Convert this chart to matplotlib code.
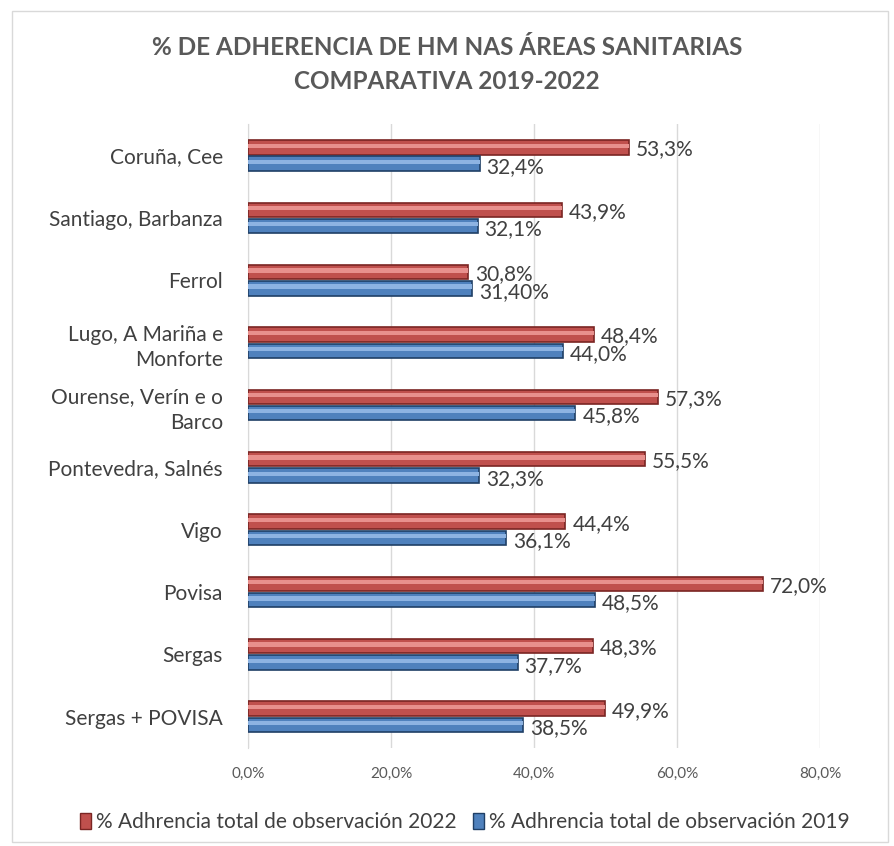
import matplotlib.pyplot as plt
import numpy as np
from matplotlib.patches import Rectangle

plt.rcParams['font.family'] = ['Lato', 'DejaVu Sans']

areas = ["Coruña, Cee", "Santiago, Barbanza", "Ferrol", "Lugo, A Mariña e\nMonforte",
         "Ourense, Verín e o\nBarco", "Pontevedra, Salnés", "Vigo", "Povisa", "Sergas",
         "Sergas + POVISA"]
vals_2022 = [53.3, 43.9, 30.8, 48.4, 57.3, 55.5, 44.4, 72.0, 48.3, 49.9]
vals_2019 = [32.4, 32.1, 31.4, 44.0, 45.8, 32.3, 36.1, 48.5, 37.7, 38.5]
labels_2022 = ["53,3%", "43,9%", "30,8%", "48,4%", "57,3%", "55,5%", "44,4%", "72,0%", "48,3%", "49,9%"]
labels_2019 = ["32,4%", "32,1%", "31,40%", "44,0%", "45,8%", "32,3%", "36,1%", "48,5%", "37,7%", "38,5%"]
ticks = [0, 20, 40, 60, 80]
tick_labels = ["0,0%", "20,0%", "40,0%", "60,0%", "80,0%"]

red, red_dark, red_light = "#C0504D", "#7A2523", "#E8908D"
blue, blue_dark, blue_light = "#4F81BD", "#1F3F66", "#8DB3E2"

fig = plt.figure(figsize=(8.94, 8.46), dpi=100)
fig.patches.append(Rectangle((0.013, 0.005), 0.98, 0.982, transform=fig.transFigure,
                             fill=False, edgecolor="#D9D9D9", linewidth=1))
ax = fig.add_axes([0.2774, 0.116, 0.6398, 0.737])

y = np.arange(len(areas))
h = 0.23
y_red = y - h / 2 - 0.015
y_blue = y + h / 2 + 0.015

ax.barh(y_red, vals_2022, height=h, color=red, edgecolor=red_dark, linewidth=1.2, zorder=3)
ax.barh(y_red - h * 0.12, vals_2022, height=h * 0.3, color=red_light, linewidth=0, zorder=4)
ax.barh(y_blue, vals_2019, height=h, color=blue, edgecolor=blue_dark, linewidth=1.2, zorder=3)
ax.barh(y_blue - h * 0.12, vals_2019, height=h * 0.3, color=blue_light, linewidth=0, zorder=4)

for yy, v, s in zip(y_red, vals_2022, labels_2022):
    ax.annotate(s, (v, yy), xytext=(5, -1.5), textcoords="offset points", va="center",
                ha="left", fontsize=15, color="#404040")
for yy, v, s in zip(y_blue, vals_2019, labels_2019):
    ax.annotate(s, (v, yy), xytext=(5, -2.5), textcoords="offset points", va="center",
                ha="left", fontsize=15, color="#404040")

ax.set_xlim(0, 80)
ax.set_ylim(len(areas) - 0.5, -0.5)
ax.set_xticks(ticks)
ax.set_xticklabels(tick_labels, fontsize=11, color="#595959")
ax.set_yticks(y)
ax.set_yticklabels(areas, fontsize=15, color="#404040")
for lab in ax.get_yticklabels():
    lab.set_linespacing(1.35)
ax.tick_params(axis="both", length=0)
ax.tick_params(axis="x", pad=14)
ax.tick_params(axis="y", pad=18)
ax.grid(axis="x", color="#D9D9D9", linewidth=1, zorder=0)
for sp in ["top", "right", "bottom"]:
    ax.spines[sp].set_visible(False)
ax.spines["left"].set_color("#D9D9D9")

fig.text(0.5, 0.924, "% DE ADHERENCIA DE HM NAS ÁREAS SANITARIAS\nCOMPARATIVA 2019-2022",
         ha="center", va="center", fontsize=17.5, fontweight="bold", color="#595959",
         linespacing=1.55)

handles = [Rectangle((0, 0), 1, 1, facecolor=red, edgecolor=red_dark),
           Rectangle((0, 0), 1, 1, facecolor=blue, edgecolor=blue_dark)]
fig.legend(handles, ["% Adhrencia total de observación 2022", "% Adhrencia total de observación 2019"],
           loc="center", bbox_to_anchor=(0.52, 0.028), ncol=2, frameon=False, fontsize=15,
           handlelength=0.5, handleheight=0.8, handletextpad=0.25, columnspacing=0.8,
           labelcolor="#404040")

fig.savefig("out.png", dpi=100)
